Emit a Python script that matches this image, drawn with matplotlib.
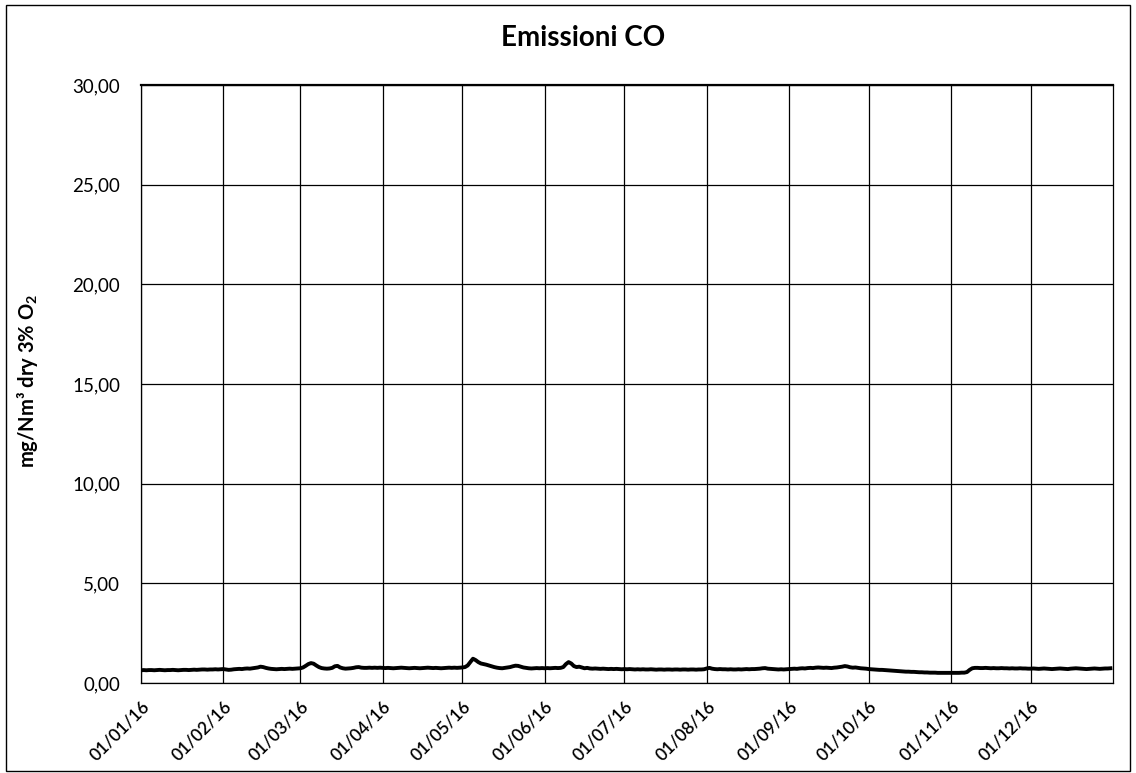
import numpy as np
import pandas as pd
import matplotlib.pyplot as plt
import matplotlib.dates as mdates
import matplotlib.transforms as mtransforms
from matplotlib.patches import Rectangle

plt.rcParams['font.family'] = ['Lato', 'DejaVu Sans']
plt.rcParams['mathtext.fontset'] = 'custom'
plt.rcParams['mathtext.rm'] = 'Lato'
plt.rcParams['mathtext.bf'] = 'Lato:bold'

# Daily CO values (mg/Nm3), 2016, one list per month
jan = [0.64,0.65,0.64,0.65,0.65,0.64,0.65,0.66,0.65,0.64,0.65,0.65,0.66,0.65,0.64,0.65,
       0.66,0.66,0.65,0.66,0.67,0.66,0.67,0.68,0.68,0.67,0.68,0.68,0.69,0.68,0.69]
feb = [0.70,0.68,0.66,0.67,0.69,0.70,0.71,0.70,0.72,0.73,0.72,0.74,0.76,0.78,0.82,0.80,
       0.76,0.73,0.71,0.70,0.69,0.70,0.71,0.70,0.71,0.72,0.71,0.72,0.73]
mar = [0.74,0.78,0.86,0.95,1.00,0.97,0.88,0.80,0.75,0.73,0.72,0.73,0.76,0.84,0.86,0.78,
       0.74,0.72,0.73,0.74,0.76,0.79,0.80,0.77,0.76,0.76,0.77,0.76,0.77,0.76,0.77]
apr = [0.76,0.75,0.76,0.75,0.74,0.75,0.76,0.77,0.76,0.75,0.74,0.75,0.76,0.75,0.74,0.75,
       0.76,0.77,0.76,0.75,0.76,0.75,0.74,0.75,0.76,0.77,0.76,0.77,0.76,0.77]
may = [0.78,0.80,0.88,1.05,1.22,1.15,1.05,0.98,0.95,0.92,0.88,0.84,0.80,0.77,0.75,0.74,
       0.76,0.78,0.80,0.84,0.87,0.86,0.82,0.78,0.76,0.74,0.73,0.74,0.75,0.74,0.75]
jun = [0.74,0.75,0.74,0.75,0.76,0.75,0.76,0.80,0.95,1.05,0.98,0.85,0.80,0.82,0.78,0.74,
       0.76,0.73,0.72,0.73,0.72,0.71,0.72,0.71,0.70,0.71,0.70,0.71,0.70,0.69]
jul = [0.70,0.69,0.70,0.69,0.68,0.69,0.68,0.69,0.68,0.68,0.69,0.68,0.67,0.68,0.68,0.67,
       0.68,0.68,0.67,0.68,0.68,0.67,0.68,0.68,0.67,0.68,0.68,0.67,0.68,0.68,0.69]
aug = [0.73,0.76,0.72,0.70,0.69,0.70,0.69,0.69,0.68,0.69,0.68,0.68,0.69,0.68,0.69,0.70,
       0.69,0.70,0.70,0.71,0.72,0.74,0.75,0.72,0.71,0.70,0.69,0.68,0.69,0.68,0.69]
sep = [0.70,0.71,0.72,0.71,0.73,0.74,0.73,0.75,0.76,0.75,0.77,0.78,0.77,0.76,0.77,0.76,
       0.75,0.77,0.78,0.80,0.82,0.85,0.83,0.79,0.77,0.78,0.76,0.74,0.73,0.72]
oct_ = [0.70,0.69,0.68,0.67,0.66,0.66,0.65,0.64,0.63,0.62,0.61,0.60,0.59,0.58,0.57,0.57,
        0.56,0.56,0.55,0.54,0.54,0.53,0.53,0.52,0.52,0.52,0.51,0.51,0.51,0.51,0.51]
nov = [0.51,0.51,0.51,0.51,0.52,0.52,0.55,0.66,0.74,0.76,0.76,0.75,0.75,0.76,0.75,0.74,
       0.75,0.74,0.74,0.75,0.74,0.74,0.73,0.74,0.73,0.73,0.74,0.73,0.73,0.72]
dec = [0.72,0.73,0.72,0.71,0.72,0.73,0.72,0.71,0.70,0.71,0.72,0.73,0.72,0.71,0.70,0.72,
       0.73,0.74,0.73,0.72,0.71,0.70,0.71,0.72,0.73,0.72,0.71,0.72,0.73,0.73,0.74]

values = jan + feb + mar + apr + may + jun + jul + aug + sep + oct_ + nov + dec
dates = pd.date_range("2016-01-01", periods=len(values), freq="D")
month_ticks = pd.date_range("2016-01-01", periods=12, freq="MS")

fig = plt.figure(figsize=(11.36, 7.73), dpi=100)
ax = fig.add_axes([0.1241, 0.1164, 0.8557, 0.7736])

ax.plot(dates, values, color="black", linewidth=2.8)

ax.set_xlim(pd.Timestamp("2016-01-01"), pd.Timestamp("2017-01-01"))
ax.set_ylim(0, 30)
ax.set_yticks(np.arange(0, 31, 5))
ax.yaxis.set_major_formatter(plt.FuncFormatter(lambda v, p: f"{v:.2f}".replace(".", ",")))

ax.set_xticks(month_ticks)
ax.xaxis.set_major_formatter(mdates.DateFormatter("%d/%m/%y"))
shift = mtransforms.ScaledTranslation(8 / 100, 0, fig.dpi_scale_trans)
for lab in ax.get_xticklabels():
    lab.set_rotation(45)
    lab.set_ha("right")
    lab.set_rotation_mode("anchor")
    lab.set_fontweight("semibold")
    lab.set_transform(lab.get_transform() + shift)

ax.grid(True, color="black", linewidth=0.9)
ax.tick_params(axis="y", length=0, labelsize=13.5, pad=15)
ax.tick_params(axis="x", length=0, labelsize=12.5, pad=11)
for s in ax.spines.values():
    s.set_color("black")
    s.set_linewidth(0.9)
ax.spines["top"].set_linewidth(1.6)

fig.text(0.513, 0.951, "Emissioni CO", fontsize=20, fontweight="bold",
         ha="center", va="center")
ax.set_ylabel(r"mg/Nm³ dry 3% O$_\mathbf{2}$", fontsize=14.5, fontweight="bold")
ax.yaxis.set_label_coords(-0.104, 0.506)

fig.patches.append(Rectangle((0.005, 0.003), 0.99, 0.99, transform=fig.transFigure,
                             fill=False, edgecolor="black", linewidth=1.0))

fig.savefig("out.png", dpi=100)
